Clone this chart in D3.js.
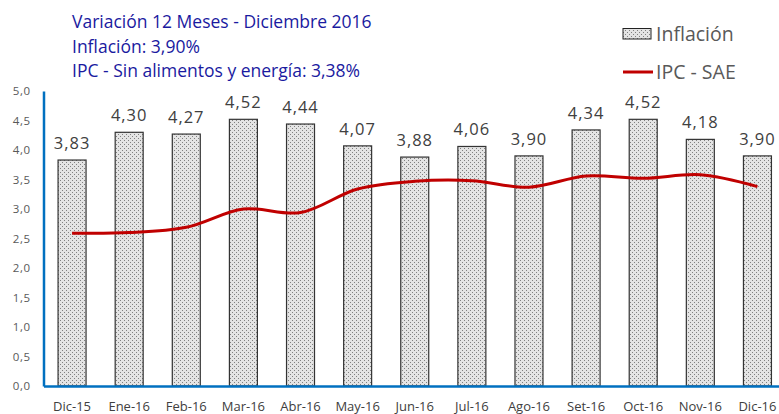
<!DOCTYPE html>
<html>
<head>
<meta charset="utf-8">
<script src="https://cdn.jsdelivr.net/npm/d3@7"></script>
<style>
  body { margin: 0; background: #fff; }
  svg { display: block; font-family: "Open Sans", Lato, sans-serif; }
</style>
</head>
<body>
<div class="chart"></div>
<script>
// Data
const months = ['Dic-15', 'Ene-16', 'Feb-16', 'Mar-16', 'Abr-16', 'May-16', 'Jun-16',
                'Jul-16', 'Ago-16', 'Set-16', 'Oct-16', 'Nov-16', 'Dic-16'];
const inflacion = [3.83, 4.30, 4.27, 4.52, 4.44, 4.07, 3.88, 4.06, 3.90, 4.34, 4.52, 4.18, 3.90];
const ipcSae = [2.59, 2.60, 2.69, 3.00, 2.94, 3.34, 3.47, 3.48, 3.37, 3.56, 3.52, 3.58, 3.38];
const yTicks = [0, 0.5, 1, 1.5, 2, 2.5, 3, 3.5, 4, 4.5, 5];
const titleLines = ['Variación 12 Meses - Diciembre 2016', 'Inflación: 3,90%', 'IPC - Sin alimentos y energía: 3,38%'];

const W = 779, H = 414;
const plot = {left: 43.5, right: 786, top: 91, bottom: 386};

const svg = d3.select('.chart')
    .append('svg')
    .attr('width', W)
    .attr('height', H);

// Dotted fill pattern
const defs = svg.append('defs');
const pat = defs.append('pattern')
    .attr('id', 'dots')
    .attr('patternUnits', 'userSpaceOnUse')
    .attr('width', 4)
    .attr('height', 4);
pat.append('rect').attr('width', 4).attr('height', 4).attr('fill', '#e4e4e4');
pat.append('rect').attr('x', 0).attr('y', 0).attr('width', 1).attr('height', 1).attr('fill', '#808080');
pat.append('rect').attr('x', 2).attr('y', 2).attr('width', 1).attr('height', 1).attr('fill', '#808080');

// Scales
const x = d3.scaleBand()
    .domain(months)
    .range([plot.left, plot.right])
    .paddingInner(0.51)
    .paddingOuter(0.255);

const y = d3.scaleLinear()
    .domain([0, 5])
    .range([plot.bottom, plot.top]);

// Bars
svg.append('g')
    .selectAll('rect')
    .data(inflacion)
    .join('rect')
    .attr('x', (d, i) => x(months[i]))
    .attr('y', d => y(d))
    .attr('width', x.bandwidth())
    .attr('height', d => y(0) - y(d))
    .attr('fill', 'url(#dots)')
    .attr('stroke', '#333')
    .attr('stroke-width', 1.2);

// Bar labels
svg.append('g')
    .selectAll('text')
    .data(inflacion)
    .join('text')
    .attr('x', (d, i) => x(months[i]) + x.bandwidth() / 2)
    .attr('y', d => y(d) - 11)
    .attr('text-anchor', 'middle')
    .style('font-size', '16.5px')
    .style('letter-spacing', '1px')
    .style('fill', '#404040')
    .text(d => d3.format('.2f')(d).replace('.', ','));

// Line
const line = d3.line()
    .x((d, i) => x(months[i]) + x.bandwidth() / 2)
    .y(d => y(d))
    .curve(d3.curveCatmullRom.alpha(0.5));

svg.append('path')
    .datum(ipcSae)
    .attr('d', line)
    .attr('fill', 'none')
    .attr('stroke', '#c00000')
    .attr('stroke-width', 3);

// Axes
const yAxis = d3.axisLeft(y)
    .tickValues(yTicks)
    .tickSize(0)
    .tickPadding(13)
    .tickFormat(d => d3.format('.1f')(d).replace('.', ','));

const yAxisDraw = svg.append('g')
    .attr('transform', `translate(${plot.left}, 0)`)
    .call(yAxis);
yAxisDraw.select('.domain').attr('stroke', '#0070c0').attr('stroke-width', 2.5);
yAxisDraw.selectAll('text')
    .style('font-family', '"Open Sans", Lato, sans-serif')
    .style('font-size', '11.5px')
    .style('letter-spacing', '0.5px')
    .style('fill', '#595959');

const xAxis = d3.axisBottom(x)
    .tickSize(0)
    .tickPadding(16)
    .tickSizeOuter(0);

const xAxisDraw = svg.append('g')
    .attr('transform', `translate(0, ${plot.bottom})`)
    .call(xAxis);
xAxisDraw.select('.domain').attr('stroke', '#0070c0').attr('stroke-width', 2.5);
xAxisDraw.selectAll('text')
    .style('font-family', '"Open Sans", Lato, sans-serif')
    .style('font-size', '13px')
    .style('fill', '#404040');

// Title block
svg.append('g')
    .selectAll('text')
    .data(titleLines)
    .join('text')
    .attr('x', 72)
    .attr('y', (d, i) => 28 + i * 24.5)
    .style('font-size', '17.5px')
    .style('fill', '#1a1aa0')
    .text(d => d);

// Legend
const legend = svg.append('g').attr('transform', 'translate(623, 0)');
legend.append('rect')
    .attr('x', 0).attr('y', 28.5).attr('width', 28).attr('height', 10.5)
    .attr('fill', 'url(#dots)')
    .attr('stroke', '#222')
    .attr('stroke-width', 1);
legend.append('text')
    .attr('x', 33).attr('y', 41)
    .style('font-size', '19.5px')
    .style('fill', '#595959')
    .text('Inflación');
legend.append('line')
    .attr('x1', 0).attr('x2', 30).attr('y1', 72).attr('y2', 72)
    .attr('stroke', '#c00000')
    .attr('stroke-width', 3);
legend.append('text')
    .attr('x', 33).attr('y', 79)
    .style('font-size', '19.5px')
    .style('fill', '#595959')
    .text('IPC - SAE');
</script>
</body>
</html>
